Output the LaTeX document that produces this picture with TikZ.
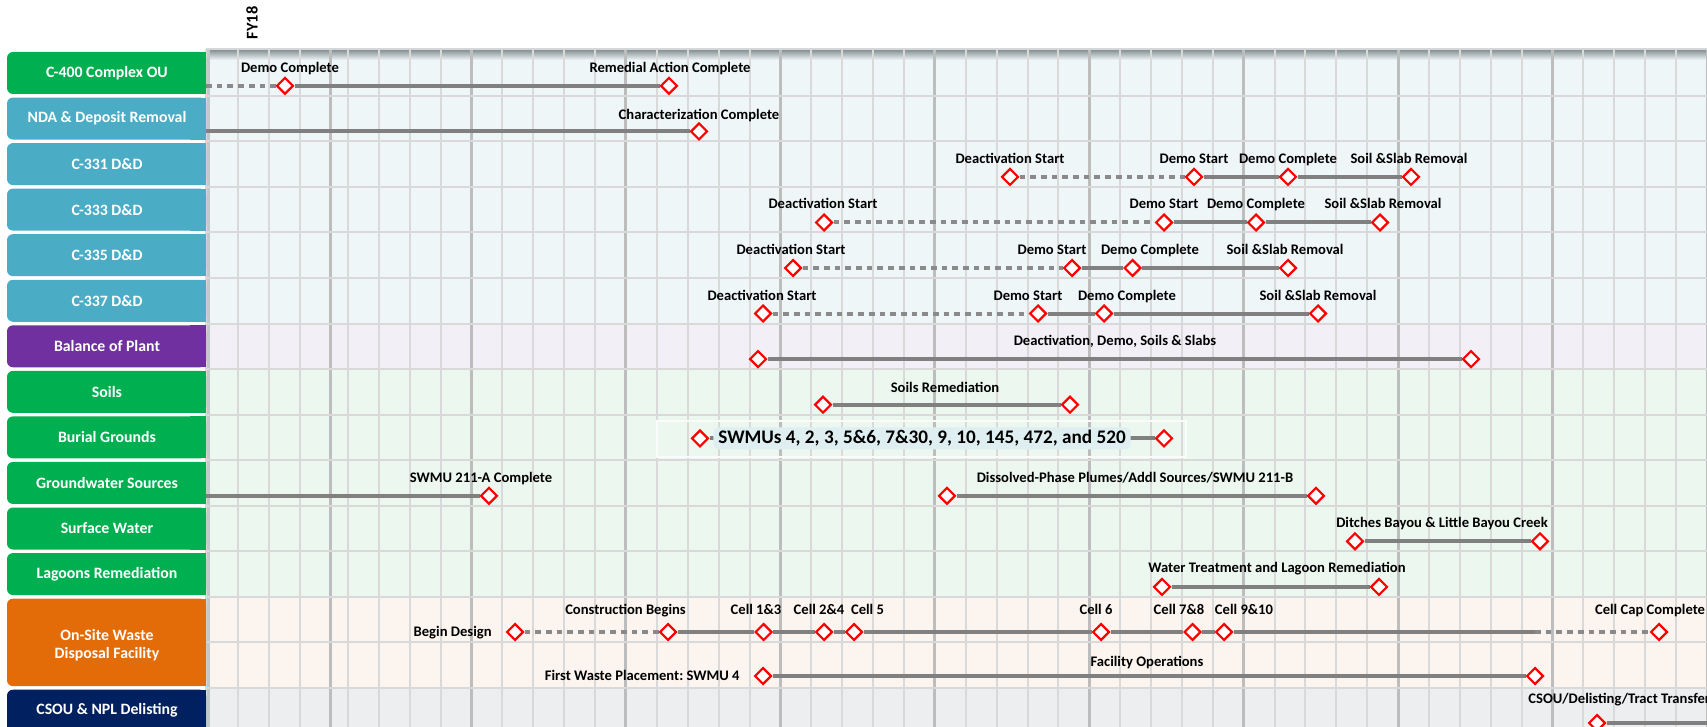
\documentclass[tikz,border=0pt]{standalone}
\usepackage{fontspec}
\setmainfont{Carlito}
\usetikzlibrary{shapes.geometric}
\pgfdeclarelayer{grid}
\pgfdeclarelayer{lines}
\pgfsetlayers{grid,lines,main}
\definecolor{boxgreen}{HTML}{00B050}
\definecolor{boxblue}{HTML}{4BACC6}
\definecolor{boxpurple}{HTML}{7030A0}
\definecolor{boxorange}{HTML}{E36C09}
\definecolor{boxnavy}{HTML}{002060}
\definecolor{rowblue}{HTML}{EFF6F8}
\definecolor{rowpurple}{HTML}{F3EFF6}
\definecolor{rowgreen}{HTML}{ECF7F0}
\definecolor{roworange}{HTML}{FCF4EF}
\definecolor{rowgray}{HTML}{EDEEF0}
\definecolor{gridthin}{HTML}{D9D9D9}
\definecolor{gridthick}{HTML}{BDBDBD}
\definecolor{barline}{HTML}{808080}
\definecolor{planline}{HTML}{8A8A8A}
\definecolor{msred}{HTML}{FF0000}
\definecolor{shadowgray}{HTML}{929DA0}
\definecolor{topline}{HTML}{D5D8D9}
\definecolor{leftshade}{HTML}{C3C9CB}
\definecolor{glowblue}{HTML}{DFEFF1}
\definecolor{framewhite}{HTML}{FAFCFB}
\newcommand\chartrowbox[3]{\fill[#1,rounded corners=3pt] (7,#2) rectangle (206,#3);\fill[#1] (190,#2) rectangle (206,#3);}
\begin{document}
\frenchspacing
\begin{tikzpicture}[x=0.5pt,y=-0.5pt]
\tikzset{
 labtext/.style={text=white, font=\bfseries\fontsize{7.9}{9.3}\selectfont, align=center, inner sep=0pt},
 mlab/.style={font=\bfseries\fontsize{7.3}{8.8}\selectfont, inner sep=0pt, anchor=base},
 ms/.style={diamond, aspect=1, draw=msred, fill=white, line width=1.1pt, minimum width=8.4pt, minimum height=8.4pt, inner sep=0pt},
 bar/.style={draw=barline, line width=2pt},
 plan/.style={draw=planline, line width=2pt, dash pattern=on 2.85pt off 2.5pt},
 gthin/.style={draw=gridthin, line width=1pt},
 gthick/.style={draw=gridthick, line width=1.5pt},
}
\useasboundingbox (0,0) rectangle (1707,727);

% ---------------- grid layer
\begin{pgfonlayer}{grid}
\fill[rowblue] (206,50.2) rectangle (1707,323.5);
\fill[rowpurple] (206,323.5) rectangle (1707,369.05);
\fill[rowgreen] (206,369.05) rectangle (1707,596.8);
\fill[roworange] (206,596.8) rectangle (1707,687.9);
\fill[rowgray] (206,687.9) rectangle (1707,727);
\shade[top color=shadowgray, bottom color=rowblue] (206,51) rectangle (1707,60);
\draw[draw=leftshade, line width=1.5pt] (208,50) -- (208,727);
\foreach \x in {206,237.7,269,300} {\draw[gthin] (\x,49) -- (\x,727);}
\draw[gthick] (330,49) -- (330,727);
\foreach \k in {0,...,44} {
  \pgfmathsetmacro\xx{348+30.886*\k}
  \pgfmathtruncatemacro\mm{mod(\k,5)}
  \ifnum\mm=4 \draw[gthick] (\xx,49) -- (\xx,727); \else \draw[gthin] (\xx,49) -- (\xx,727); \fi
}
\foreach \k in {1,...,14} {\draw[gthin] (206,{50.2+45.55*\k}) -- (1707,{50.2+45.55*\k});}
\draw[draw=topline, line width=1pt] (206,49.5) -- (1707,49.5);
\end{pgfonlayer}

\begin{scope}
\clip (0,0) rectangle (1707,727);
% ---------------- row label boxes
\chartrowbox{boxgreen}{52}{94}
\chartrowbox{boxblue}{97.55}{139.55}
\chartrowbox{boxblue}{143.1}{185.1}
\chartrowbox{boxblue}{188.65}{230.65}
\chartrowbox{boxblue}{234.2}{276.2}
\chartrowbox{boxblue}{279.75}{321.75}
\chartrowbox{boxpurple}{325.3}{367.3}
\chartrowbox{boxgreen}{370.85}{412.85}
\chartrowbox{boxgreen}{416.4}{458.4}
\chartrowbox{boxgreen}{461.95}{503.95}
\chartrowbox{boxgreen}{507.5}{549.5}
\chartrowbox{boxgreen}{553.05}{595.05}
\chartrowbox{boxorange}{598.6}{686.15}
\chartrowbox{boxnavy}{689.7}{760}
\node[labtext] (n1) at (107,73) {C-400 Complex OU};
\node[labtext] (n2) at (107,118.55) {NDA \& Deposit Removal};
\node[labtext] (n3) at (107,164.1) {C-331 D\&D};
\node[labtext] (n4) at (107,209.65) {C-333 D\&D};
\node[labtext] (n5) at (107,255.2) {C-335 D\&D};
\node[labtext] (n6) at (107,300.75) {C-337 D\&D};
\node[labtext] (n7) at (107,346.3) {Balance of Plant};
\node[labtext] (n8) at (107,391.85) {Soils};
\node[labtext] (n9) at (107,437.4) {Burial Grounds};
\node[labtext] (n10) at (107,482.95) {Groundwater Sources};
\node[labtext] (n11) at (107,528.5) {Surface Water};
\node[labtext] (n12) at (107,574.05) {Lagoons Remediation};
\node[labtext] (n13) at (107,645) {On-Site Waste\\Disposal Facility};
\node[labtext] (n15) at (107,710.7) {CSOU \& NPL Delisting};

\node[font=\bfseries\fontsize{8.2}{9}\selectfont, inner sep=0pt, anchor=center, rotate=90] (fy) at (252,23) {FY18};

% ---------------- row 1
\coordinate (r1s) at (206,85.8);
\node[ms] (r1a) at (285,85.8) {};
\node[ms] (r1b) at (669,85.8) {};
\node[mlab] (t1a) at (290,72.3) {Demo Complete};
\node[mlab] (t1b) at (670,72.3) {Remedial Action Complete};
% ---------------- row 2
\coordinate (r2s) at (206,131.4);
\node[ms] (r2a) at (699,131.4) {};
\node[mlab] (t2a) at (699,119.4) {Characterization Complete};
% ---------------- row 3
\node[ms] (r3a) at (1010,176.9) {};
\node[ms] (r3b) at (1194,176.9) {};
\node[ms] (r3c) at (1288,176.9) {};
\node[ms] (r3d) at (1411,176.9) {};
\node[mlab] (t3a) at (1010,163.4) {Deactivation Start};
\node[mlab] (t3b) at (1194,163.4) {Demo Start};
\node[mlab] (t3c) at (1288,163.4) {Demo Complete};
\node[mlab] (t3d) at (1409,163.4) {Soil \&Slab Removal};
% ---------------- row 4
\node[ms] (r4a) at (824,222.5) {};
\node[ms] (r4b) at (1164,222.5) {};
\node[ms] (r4c) at (1256,222.5) {};
\node[ms] (r4d) at (1380,222.5) {};
\node[mlab] (t4a) at (823,209) {Deactivation Start};
\node[mlab] (t4b) at (1164,209) {Demo Start};
\node[mlab] (t4c) at (1256,209) {Demo Complete};
\node[mlab] (t4d) at (1383,209) {Soil \&Slab Removal};
% ---------------- row 5
\node[ms] (r5a) at (793,268) {};
\node[ms] (r5b) at (1072,268) {};
\node[ms] (r5c) at (1132.5,268) {};
\node[ms] (r5d) at (1288,268) {};
\node[mlab] (t5a) at (791,254.5) {Deactivation Start};
\node[mlab] (t5b) at (1052,254.5) {Demo Start};
\node[mlab] (t5c) at (1150,254.5) {Demo Complete};
\node[mlab] (t5d) at (1285,254.5) {Soil \&Slab Removal};
% ---------------- row 6
\node[ms] (r6a) at (763,313.5) {};
\node[ms] (r6b) at (1038,313.5) {};
\node[ms] (r6c) at (1104,313.5) {};
\node[ms] (r6d) at (1318,313.5) {};
\node[mlab] (t6a) at (762,300) {Deactivation Start};
\node[mlab] (t6b) at (1028,300) {Demo Start};
\node[mlab] (t6c) at (1127,300) {Demo Complete};
\node[mlab] (t6d) at (1318,300) {Soil \&Slab Removal};
% ---------------- row 7
\node[ms] (r7a) at (758,359.1) {};
\node[ms] (r7b) at (1471,359.1) {};
\node[mlab] (t7a) at (1115,345.6) {Deactivation, Demo, Soils \& Slabs};
% ---------------- row 8
\node[ms] (r8a) at (823,404.7) {};
\node[ms] (r8b) at (1070,404.7) {};
\node[mlab] (t8a) at (945,392.2) {Soils Remediation};
% ---------------- row 9
\draw[framewhite, line width=0.6pt] (657,421) rectangle (1186,457);
\node[ms] (r9a) at (700,438.4) {};
\node[ms] (r9b) at (1164,438.4) {};
\node[font=\bfseries\fontsize{9.6}{11}\selectfont, fill=glowblue, inner xsep=2.5pt, inner ysep=1.5pt, rounded corners=3pt] (swmu) at (922,438.4) {SWMUs 4, 2, 3, 5\&6, 7\&30, 9, 10, 145, 472, and 520};
% ---------------- row 10
\coordinate (r10s) at (206,495.8);
\node[ms] (r10a) at (489,495.8) {};
\node[ms] (r10b) at (947,495.8) {};
\node[ms] (r10c) at (1316,495.8) {};
\node[mlab] (t10a) at (481,482.3) {SWMU 211-A Complete};
\node[mlab] (t10b) at (1135,482.3) {Dissolved-Phase Plumes/Addl Sources/SWMU 211-B};
% ---------------- row 11
\node[ms] (r11a) at (1355,541.3) {};
\node[ms] (r11b) at (1540,541.3) {};
\node[mlab] (t11a) at (1442,527.8) {Ditches Bayou \& Little Bayou Creek};
% ---------------- row 12
\node[ms] (r12a) at (1162,586.9) {};
\node[ms] (r12b) at (1379,586.9) {};
\node[mlab] (t12a) at (1277,572.4) {Water Treatment and Lagoon Remediation};
% ---------------- row 13
\node[ms] (r13a) at (515,632) {};
\node[ms] (r13b) at (668,632) {};
\node[ms] (r13c) at (763.6,632) {};
\node[ms] (r13d) at (824,632) {};
\node[ms] (r13e) at (854,632) {};
\node[ms] (r13f) at (1101,632) {};
\node[ms] (r13g) at (1192.5,632) {};
\node[ms] (r13h) at (1224,632) {};
\coordinate (r13x) at (1535,632);
\node[ms] (r13i) at (1659,632) {};
\node[mlab, anchor=base east] (t13a) at (492,636.5) {Begin Design};
\node[mlab] (t13b) at (625.5,614) {Construction Begins};
\node[mlab] (t13c) at (756,614) {Cell 1\&3};
\node[mlab] (t13d) at (819,614) {Cell 2\&4};
\node[mlab] (t13e) at (867.5,614) {Cell 5};
\node[mlab] (t13f) at (1096,614) {Cell 6};
\node[mlab] (t13g) at (1179,614) {Cell 7\&8};
\node[mlab] (t13h) at (1244,614) {Cell 9\&10};
\node[mlab] (t13i) at (1650,614) {Cell Cap Complete};
% ---------------- row 14
\node[ms] (r14a) at (763,676) {};
\node[ms] (r14b) at (1535,676) {};
\node[mlab, anchor=base east] (t14a) at (740,680.5) {First Waste Placement: SWMU 4};
\node[mlab] (t14b) at (1147,666) {Facility Operations};
% ---------------- row 15
\node[ms] (r15a) at (1597,723) {};
\coordinate (r15x) at (1707,723);
\node[mlab, anchor=base west] (t15a) at (1528,703) {CSOU/Delisting/Tract Transfer};
\end{scope}

% ---------------- bars
\begin{pgfonlayer}{lines}
\draw[plan] (r1s) -- (r1a);
\draw[bar] (r1a) -- (r1b);
\draw[bar] (r2s) -- (r2a);
\draw[plan] (r3a) -- (r3b);
\draw[bar] (r3b) -- (r3c) -- (r3d);
\draw[plan] (r4a) -- (r4b);
\draw[bar] (r4b) -- (r4c) -- (r4d);
\draw[plan] (r5a) -- (r5b);
\draw[bar] (r5b) -- (r5c) -- (r5d);
\draw[plan] (r6a) -- (r6b);
\draw[bar] (r6b) -- (r6c) -- (r6d);
\draw[bar] (r7a) -- (r7b);
\draw[bar] (r8a) -- (r8b);
\draw[bar] (r9a) -- (r9b);
\draw[bar] (r10s) -- (r10a);
\draw[bar] (r10b) -- (r10c);
\draw[bar] (r11a) -- (r11b);
\draw[bar] (r12a) -- (r12b);
\draw[plan] (r13a) -- (r13b);
\draw[bar] (r13b) -- (r13c) -- (r13d) -- (r13e) -- (r13f) -- (r13g) -- (r13h) -- (r13x);
\draw[plan] (r13x) -- (r13i);
\draw[bar] (r14a) -- (r14b);
\draw[bar] (r15a) -- (r15x);
\end{pgfonlayer}
\end{tikzpicture}
\end{document}
